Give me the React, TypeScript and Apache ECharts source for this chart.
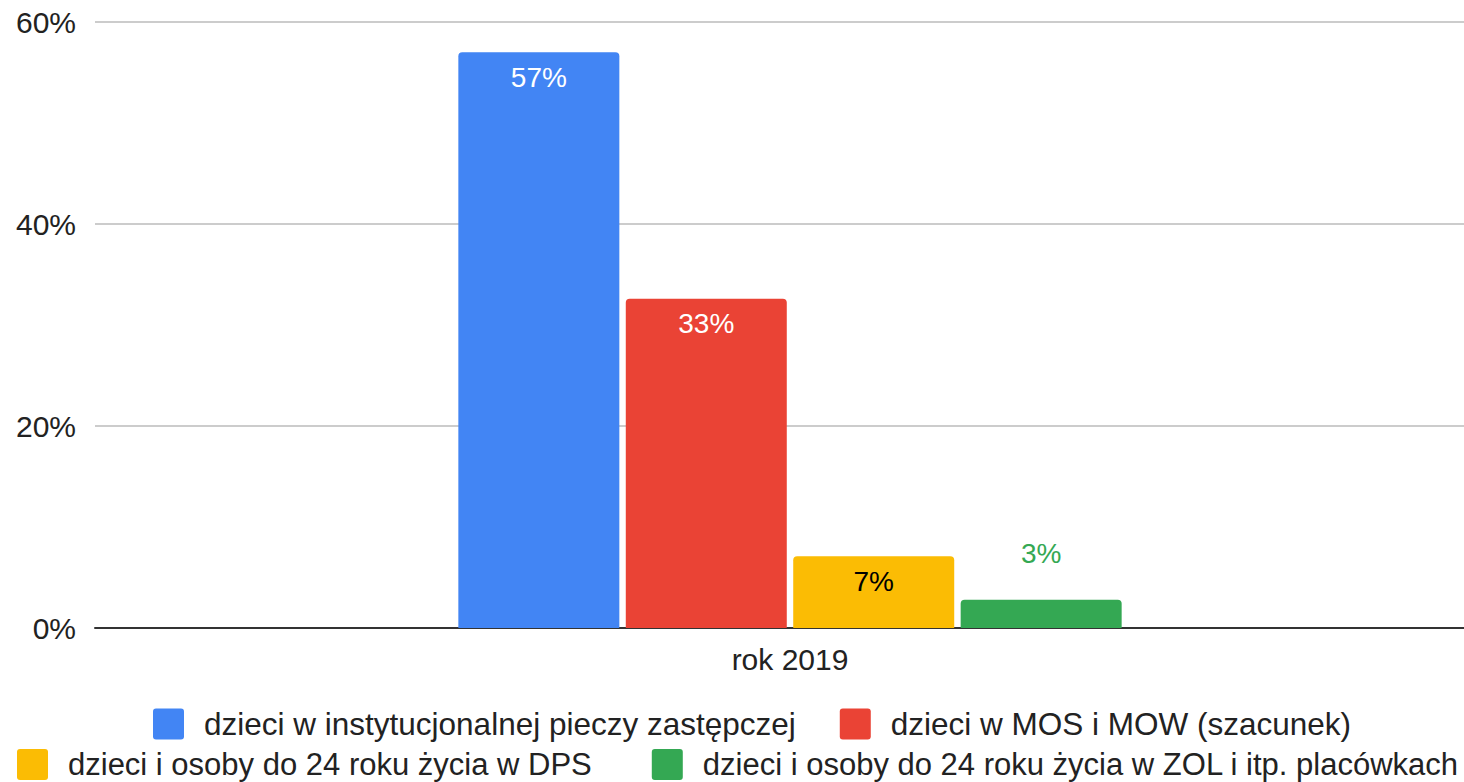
import React, { useEffect, useRef } from "react";
import * as echarts from "echarts";

const categories = ["rok 2019"];
const seriesNames = [
  "dzieci w instytucjonalnej pieczy zastępczej",
  "dzieci w MOS i MOW (szacunek)",
  "dzieci i osoby do 24 roku życia w DPS",
  "dzieci i osoby do 24 roku życia w ZOL i itp. placówkach",
];
const seriesValues = [57, 32.6, 7.1, 2.8];
const seriesColors = ["#4285F4", "#EA4335", "#FBBC04", "#34A853"];
const labelColors = ["#ffffff", "#ffffff", "#000000", "#34A853"];
const labelPositions = ["insideTop", "insideTop", "insideTop", "top"];
const yTicks = [0, 20, 40, 60];

const FONT = "'Liberation Sans', Arial, sans-serif";
const ICON = "path://M3,0H28Q31,0 31,3V28Q31,31 28,31H3Q0,31 0,28V3Q0,0 3,0Z";

export default function App() {
  const ref = useRef<HTMLDivElement>(null);
  useEffect(() => {
    document.body.style.margin = "0";
    document.body.style.overflow = "hidden";
    if (!ref.current) return;
    const chart = echarts.init(ref.current, undefined, { renderer: "svg" });
    const series = seriesNames.map((name, i) => ({
      name,
      type: "bar",
      data: [seriesValues[i]],
      barWidth: 161,
      barGap: "4%",
      itemStyle: { color: seriesColors[i], borderRadius: [4, 4, 0, 0] },
      label: {
        show: true,
        position: labelPositions[i],
        distance: labelPositions[i] === "top" ? 32 : 11,
        color: labelColors[i],
        fontSize: 28,
        fontFamily: FONT,
        formatter: (p: any) => Math.round(p.value) + "%",
      },
    }));
    const legendBase = {
      itemWidth: 31,
      itemHeight: 31,
      padding: 0,
      icon: ICON,
    };
    const legendText = (size: number) => ({
      color: "#222",
      fontSize: size,
      lineHeight: 30,
      fontFamily: FONT,
      padding: [0, 0, 0, 15],
    });
    chart.setOption({
      animation: false,
      textStyle: { fontFamily: FONT },
      grid: { left: 95, top: 22, right: 0, bottom: 154 },
      xAxis: {
        type: "category",
        data: categories,
        axisLine: { lineStyle: { color: "#333", width: 2 } },
        axisTick: { show: false },
        axisLabel: { color: "#222", fontSize: 30, margin: 16, fontFamily: FONT },
      },
      yAxis: {
        type: "value",
        min: yTicks[0],
        max: yTicks[yTicks.length - 1],
        interval: 20,
        axisLine: { show: false },
        axisTick: { show: false },
        splitLine: { lineStyle: { color: "#cccccc", width: 2 } },
        axisLabel: {
          color: "#222",
          fontSize: 30,
          margin: 19,
          fontFamily: FONT,
          formatter: (v: number) => v + "%",
        },
      },
      legend: [
        {
          ...legendBase,
          itemGap: 44,
          textStyle: legendText(31.5),
          data: seriesNames.slice(0, 2),
          left: 153,
          top: 708,
        },
        {
          ...legendBase,
          itemGap: 60,
          textStyle: legendText(31),
          data: seriesNames.slice(2, 4),
          left: 17,
          top: 749,
        },
      ],
      series,
    });
    return () => chart.dispose();
  }, []);
  return <div ref={ref} style={{ width: 1485, height: 782 }} />;
}
